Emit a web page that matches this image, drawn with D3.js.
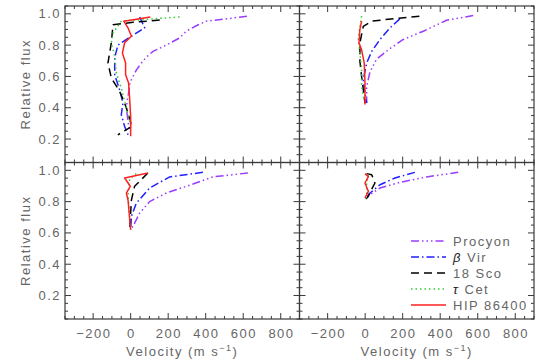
<!DOCTYPE html>
<html>
<head>
<meta charset="utf-8">
<script src="https://cdn.jsdelivr.net/npm/d3@7"></script>
<style>
  html, body { margin: 0; padding: 0; background: #fff; }
  svg { display: block; }
  text { font-family: "Liberation Sans", Arial, sans-serif; fill: #666; }
</style>
</head>
<body>
<svg id="chart" width="545" height="363"></svg>
<script>
// ---------- data ----------
const seriesNames = ["Procyon", "β Vir", "18 Sco", "τ Cet", "HIP 86400"];
const seriesColors = ["#9b3cff", "#1f1fff", "#000000", "#33cc33", "#ff2020"];
const seriesDash = ["8 3 1.5 3 1.5 3 1.5 3", "8 3 1.5 3", "8 5", "1.5 3", null];

const xTicks = [-200, 0, 200, 400, 600, 800];
const yTicks = [0.2, 0.4, 0.6, 0.8, 1.0];
const xDomain = [-350, 900];
const yDomain = [0.05, 1.05];

// top-left panel  [velocity (m/s), relative flux]
const procyonTL = [[620,0.985],[500,0.966],[403,0.953],[360,0.93],[297,0.89],[261,0.846],[190,0.80],[119,0.76],[90,0.73],[66,0.70],[30,0.64],[4,0.58],[-5,0.55],[-10,0.50],[-18,0.45],[-22,0.40],[-18,0.35],[-12,0.30],[-8,0.25]];
const betaVirTL = [[48,0.98],[75,0.91],[4,0.857],[-68,0.80],[-85,0.72],[-85,0.61],[-59,0.515],[-41,0.43],[-50,0.355],[-32,0.28],[-14,0.227]];
const sco18TL = [[155,0.96],[12,0.946],[-94,0.93],[-103,0.815],[-121,0.686],[-103,0.59],[-59,0.505],[-32,0.43],[-14,0.366],[4,0.29],[12,0.285],[-68,0.227]];
const tauCetTL = [[261,0.98],[-50,0.953],[-94,0.878],[-103,0.815],[-85,0.73],[-76,0.62],[-50,0.526],[-32,0.44],[-14,0.355],[4,0.28]];
const hipTL = [[105,0.98],[-37,0.953],[-14,0.91],[4,0.857],[-32,0.815],[-44,0.75],[-27,0.686],[-27,0.61],[-11,0.558],[-5,0.45],[0,0.345],[0,0.217]];

// top-right panel
const procyonTR = [[576,0.989],[434,0.959],[310,0.889],[203,0.836],[123,0.77],[61,0.71],[26,0.63],[8,0.537],[8,0.43]];
const betaVirTR = [[185,0.968],[132,0.91],[79,0.836],[35,0.76],[8,0.686],[-10,0.58],[-1,0.494],[8,0.43]];
const sco18TR = [[289,0.985],[106,0.963],[35,0.953],[-10,0.92],[-28,0.815],[-28,0.697],[-19,0.60],[-10,0.515],[-1,0.43]];
const tauCetTR = [[-19,0.985],[-37,0.846],[-28,0.75],[-19,0.644],[-19,0.537],[-6,0.45]];
const hipTR = [[-19,0.953],[-28,0.90],[-33,0.815],[-19,0.77],[-5,0.686],[-1,0.558],[-1,0.42]];

// bottom-left panel
const procyonBL = [[625,0.983],[439,0.958],[297,0.898],[190,0.855],[101,0.80],[48,0.727],[12,0.642],[0,0.62]];
const betaVirBL = [[385,0.987],[208,0.958],[101,0.887],[30,0.79],[4,0.706],[0,0.62]];
const sco18BL = [[92,0.983],[21,0.898],[4,0.81],[-5,0.62]];
const tauCetBL = [[30,0.979],[-5,0.945],[-14,0.845],[-5,0.70],[0,0.62]];
const hipBL = [[92,0.983],[-32,0.951],[-2,0.898],[-23,0.855],[-14,0.81],[-5,0.684],[0,0.62]];

// bottom-right panel
const procyonBR = [[496,0.987],[328,0.958],[185,0.923],[79,0.887],[26,0.844],[8,0.823]];
const betaVirBR = [[265,0.987],[159,0.951],[79,0.908],[26,0.855],[4,0.817]];
const sco18BR = [[8,0.979],[35,0.972],[52,0.919],[14,0.83],[4,0.817]];
const tauCetBR = [[17,0.972],[8,0.92],[8,0.855],[4,0.817]];
const hipBR = [[-1,0.979],[17,0.96],[-1,0.919],[17,0.866],[-1,0.823]];

const panels = [
  {row: 0, col: 0, series: [procyonTL, betaVirTL, sco18TL, tauCetTL, hipTL]},
  {row: 0, col: 1, series: [procyonTR, betaVirTR, sco18TR, tauCetTR, hipTR]},
  {row: 1, col: 0, series: [procyonBL, betaVirBL, sco18BL, tauCetBL, hipBL]},
  {row: 1, col: 1, series: [procyonBR, betaVirBR, sco18BR, tauCetBR, hipBR]}
];

// ---------- layout ----------
const svg = d3.select("#chart");
const left0 = 65, panelW = 234.5, top0 = 6, panelH = 156.5;
const axisColor = "#3a3a3a";
const LS = 1.5;

panels.forEach(p => {
  const x0 = left0 + p.col * panelW;
  const y0 = top0 + p.row * panelH;
  const xs = d3.scaleLinear().domain(xDomain).range([x0, x0 + panelW]);
  const ys = d3.scaleLinear().domain(yDomain).range([y0 + panelH, y0]);
  const g = svg.append("g");

  const clipId = "clip" + p.row + p.col;
  svg.append("clipPath").attr("id", clipId).append("rect")
    .attr("x", x0).attr("y", y0).attr("width", panelW).attr("height", panelH);

  const line = d3.line().x(d => xs(d[0])).y(d => ys(d[1]));
  const lg = g.append("g").attr("clip-path", `url(#${clipId})`);
  p.series.forEach((s, i) => {
    lg.append("path").datum(s)
      .attr("d", line)
      .attr("fill", "none")
      .attr("stroke", seriesColors[i])
      .attr("stroke-width", 1.5)
      .attr("stroke-dasharray", seriesDash[i])
      .attr("stroke-linejoin", "round");
  });

  g.append("rect").attr("x", x0).attr("y", y0).attr("width", panelW).attr("height", panelH)
    .attr("fill", "none").attr("stroke", axisColor).attr("stroke-width", 1.2);

  const xMinor = d3.range(-350, 901, 50);
  const yMinor = d3.range(0.05, 1.0501, 0.05).map(v => +v.toFixed(2));
  const tk = g.append("g").attr("stroke", axisColor).attr("stroke-width", 1);
  xMinor.forEach(v => {
    const major = xTicks.includes(v);
    const L = major ? 6 : 3;
    const X = xs(v);
    tk.append("line").attr("x1", X).attr("x2", X).attr("y1", y0 + panelH).attr("y2", y0 + panelH - L);
    tk.append("line").attr("x1", X).attr("x2", X).attr("y1", y0).attr("y2", y0 + L);
  });
  yMinor.forEach(v => {
    const major = yTicks.some(t => Math.abs(t - v) < 1e-6);
    const L = major ? 6 : 3;
    const Y = ys(v);
    tk.append("line").attr("x1", x0).attr("x2", x0 + L).attr("y1", Y).attr("y2", Y);
    tk.append("line").attr("x1", x0 + panelW).attr("x2", x0 + panelW - L).attr("y1", Y).attr("y2", Y);
  });

  if (p.col === 0) {
    yTicks.forEach(v => {
      g.append("text").attr("x", x0 - 4).attr("y", ys(v) + 4.5)
        .attr("text-anchor", "end").attr("font-size", 13).attr("letter-spacing", LS)
        .text(v.toFixed(1));
    });
    g.append("text")
      .attr("transform", `translate(30,${y0 + panelH / 2}) rotate(-90)`)
      .attr("text-anchor", "middle").attr("font-size", 13).attr("letter-spacing", LS)
      .text("Relative flux");
  }
  if (p.row === 1) {
    xTicks.forEach(v => {
      g.append("text").attr("x", xs(v) + 0.75).attr("y", y0 + panelH + 19)
        .attr("text-anchor", "middle").attr("font-size", 13).attr("letter-spacing", LS)
        .text(v < 0 ? "−" + Math.abs(v) : String(v));
    });
    const t = g.append("text").attr("x", x0 + panelW / 2).attr("y", y0 + panelH + 37)
      .attr("text-anchor", "middle").attr("font-size", 13).attr("letter-spacing", LS);
    t.append("tspan").text("Velocity (m s");
    t.append("tspan").attr("dy", -5).attr("font-size", 9).text("−1");
    t.append("tspan").attr("dy", 5).text(")");
  }
});

// ---------- legend ----------
const leg = svg.append("g");
seriesNames.forEach((name, i) => {
  const y = 241 + i * 16;
  leg.append("line").attr("x1", 411).attr("x2", 446).attr("y1", y).attr("y2", y)
    .attr("stroke", seriesColors[i]).attr("stroke-width", 1.5)
    .attr("stroke-dasharray", seriesDash[i]);
  const t = leg.append("text").attr("x", 453).attr("y", y + 5)
    .attr("font-size", 13).attr("letter-spacing", LS);
  if (name.startsWith("β") || name.startsWith("τ")) {
    t.append("tspan").attr("font-style", "italic").attr("fill", "#222").text(name[0]);
    t.append("tspan").text(name.slice(1));
  } else {
    t.text(name);
  }
});
</script>
</body>
</html>
